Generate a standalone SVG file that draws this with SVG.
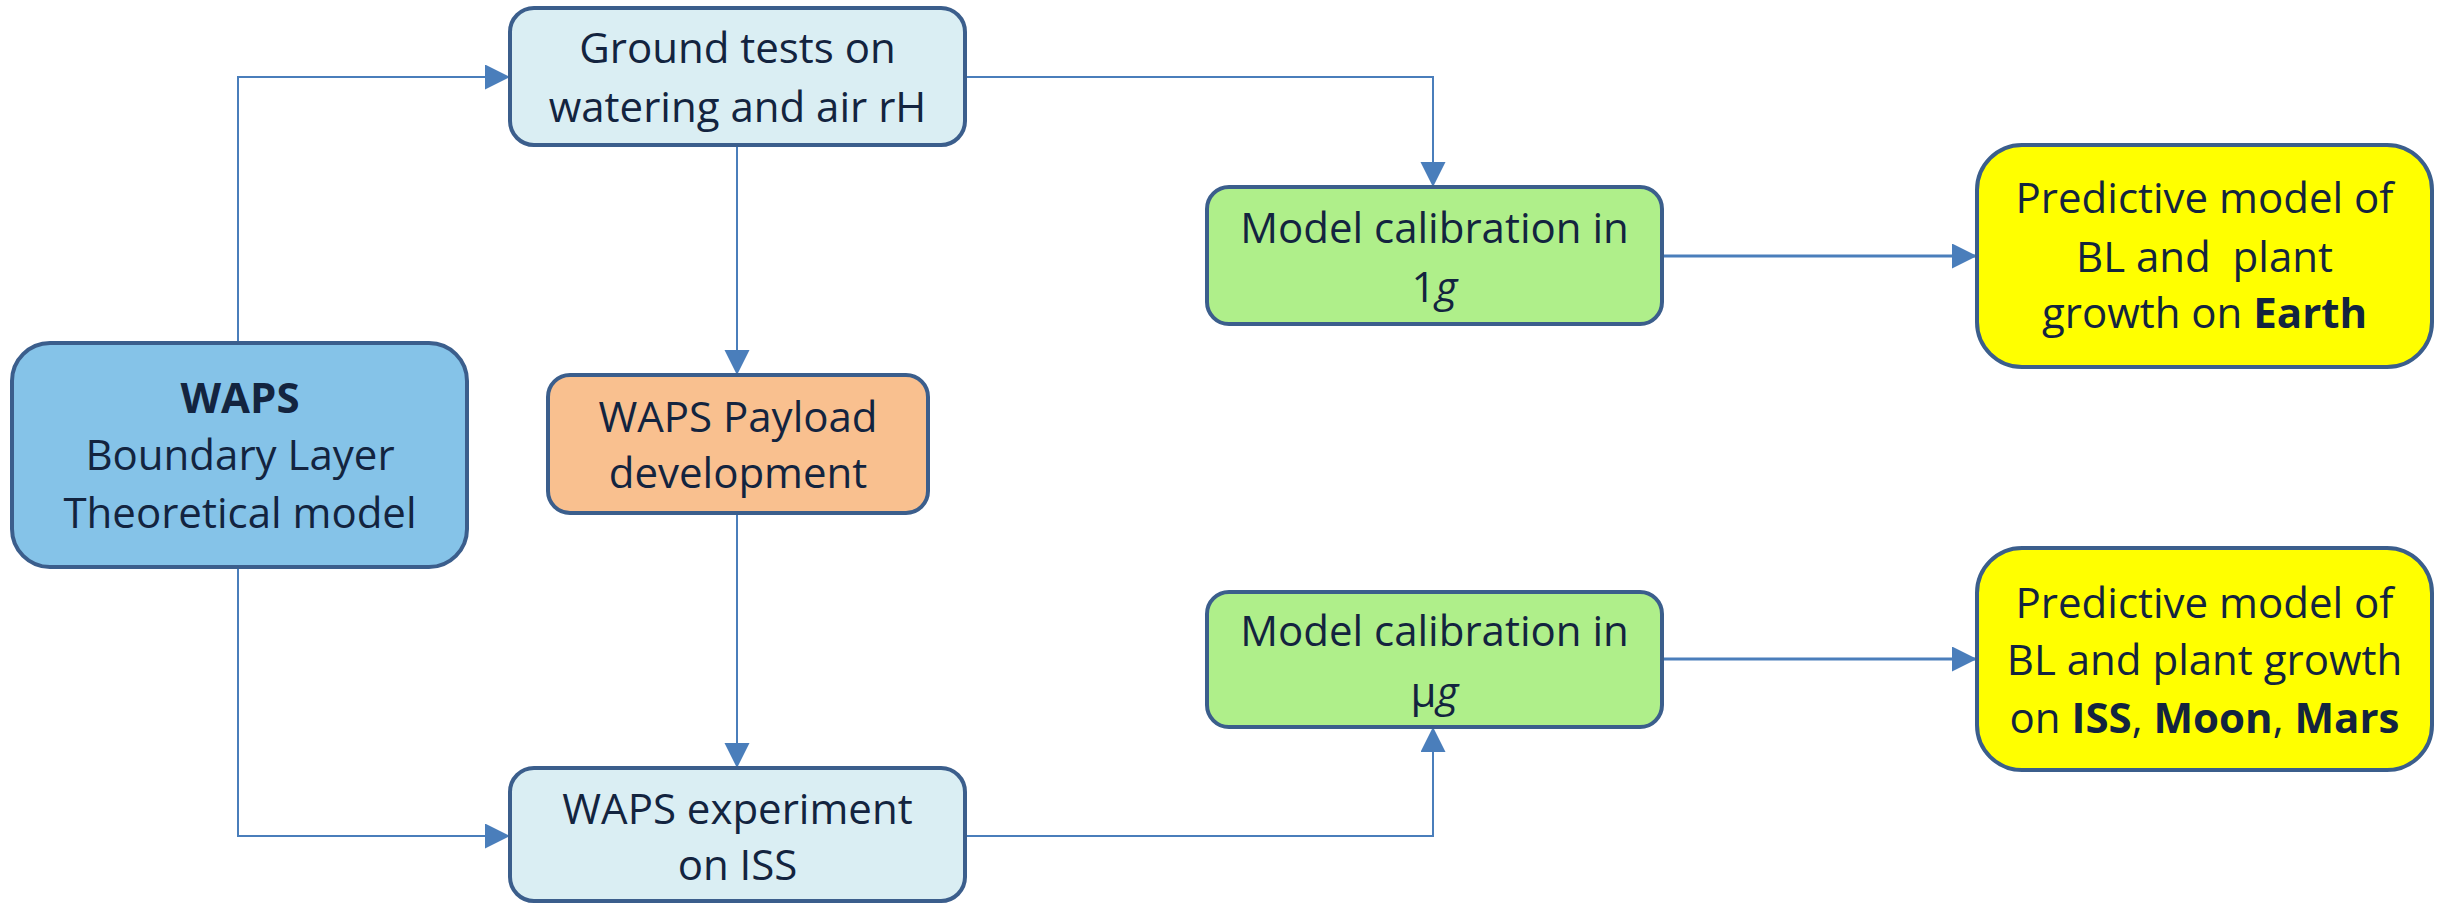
<svg xmlns="http://www.w3.org/2000/svg" width="2445" height="903" viewBox="0 0 2445 903">
<style>
  .box { stroke: #3B5E8C; stroke-width: 4; }
  .t { font-family: "Open Sans", "Noto Sans", sans-serif; font-size: 42px; fill: #13243F; text-anchor: middle; }
  .b { font-weight: bold; }
  .i { font-style: italic; }
  .c { fill: none; stroke: #4A7EBB; stroke-width: 2; }
  .c3 { fill: none; stroke: #4A7EBB; stroke-width: 3; }
</style>
<defs>
  <marker id="arr" markerUnits="userSpaceOnUse" markerWidth="26" markerHeight="26" refX="25" refY="12.5" orient="auto" viewBox="0 0 26 26">
    <path d="M0,0 L25,12.5 L0,25 z" fill="#4A7EBB"/>
  </marker>
</defs>
<rect width="2445" height="903" fill="#FFFFFF"/>
<g id="connectors">
  <path class="c" d="M238,343 V77 H510" marker-end="url(#arr)"/>
  <path class="c" d="M238,567 V836 H510" marker-end="url(#arr)"/>
  <path class="c" d="M737,145 V375" marker-end="url(#arr)"/>
  <path class="c" d="M737,513 V768" marker-end="url(#arr)"/>
  <path class="c" d="M965,77 H1433 V187" marker-end="url(#arr)"/>
  <path class="c" d="M965,836 H1433 V727" marker-end="url(#arr)"/>
  <path class="c3" d="M1662,256 H1977" marker-end="url(#arr)"/>
  <path class="c3" d="M1662,659 H1977" marker-end="url(#arr)"/>
</g>
<g id="waps-model">
  <rect class="box" x="12" y="343" width="455" height="224" rx="38" fill="#85C3E8"/>
  <text class="t b" x="240" y="413">WAPS</text>
  <text class="t" x="240" y="470">Boundary Layer</text>
  <text class="t" x="240" y="528">Theoretical model</text>
</g>
<g id="ground-tests">
  <rect class="box" x="510" y="8" width="455" height="137" rx="24" fill="#DAEEF3"/>
  <text class="t" x="737.5" y="63">Ground tests on</text>
  <text class="t" x="737.5" y="122">watering and air rH</text>
</g>
<g id="payload">
  <rect class="box" x="548" y="375" width="380" height="138" rx="22" fill="#F9C08F"/>
  <text class="t" x="738" y="432">WAPS Payload</text>
  <text class="t" x="738" y="488">development</text>
</g>
<g id="experiment">
  <rect class="box" x="510" y="768" width="455" height="133" rx="24" fill="#DAEEF3"/>
  <text class="t" x="737.5" y="824">WAPS experiment</text>
  <text class="t" x="737.5" y="880">on ISS</text>
</g>
<g id="calib-1g">
  <rect class="box" x="1207" y="187" width="455" height="137" rx="22" fill="#AFEF8A"/>
  <text class="t" x="1434.5" y="243">Model calibration in</text>
  <text class="t" x="1434.5" y="302">1<tspan class="i">g</tspan></text>
</g>
<g id="calib-ug">
  <rect class="box" x="1207" y="592" width="455" height="135" rx="22" fill="#AFEF8A"/>
  <text class="t" x="1434.5" y="646">Model calibration in</text>
  <text class="t" x="1434.5" y="707">μ<tspan class="i">g</tspan></text>
</g>
<g id="predict-earth">
  <rect class="box" x="1977" y="145" width="455" height="222" rx="45" fill="#FFFF00"/>
  <text class="t" x="2204.5" y="213">Predictive model of</text>
  <text class="t" x="2204.5" y="272">BL and&#160; plant</text>
  <text class="t" x="2204.5" y="328">growth on <tspan class="b">Earth</tspan></text>
</g>
<g id="predict-space">
  <rect class="box" x="1977" y="548" width="455" height="222" rx="45" fill="#FFFF00"/>
  <text class="t" x="2204.5" y="618">Predictive model of</text>
  <text class="t" x="2204.5" y="675">BL and plant growth</text>
  <text class="t" x="2204.5" y="733">on <tspan class="b">ISS</tspan>, <tspan class="b">Moon</tspan>, <tspan class="b">Mars</tspan></text>
</g>
</svg>
